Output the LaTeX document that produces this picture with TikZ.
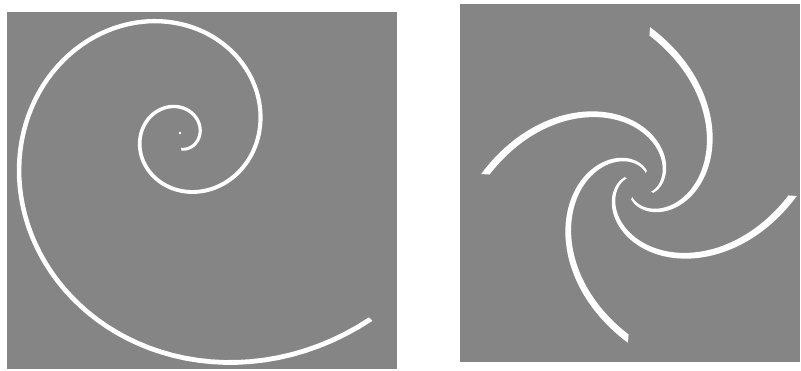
\documentclass[tikz,border=0pt]{standalone}

\begin{document}
\begin{tikzpicture}[
    x=0.02cm, y=0.02cm,
    panel/.style={fill=black!48, draw=none},
    ribbon/.style={fill=white, draw=none},
    declare function={
        rl(\t)=19.7*exp(0.00384*\t);  hl(\t)=1.5+(\t+85)/760;
        ra(\t)=154*exp(0.011345*\t);  ha(\t)=1.2+3*(\t+205)/205;
    }
]
\useasboundingbox (0,0) rectangle (801,371);

% Panels
\fill[panel] (7,2) rectangle (397,359);
\fill[panel] (460,9) rectangle (800,367);

% Left: one spiral
\coordinate (lcenter) at (180,236);
\begin{scope}[shift={(lcenter)}]
  \fill[ribbon] plot[domain=-85:676, samples=240, variable=\t]
      ({(rl(\t)+hl(\t))*cos(\t)}, {(rl(\t)+hl(\t))*sin(\t)})
    -- plot[domain=676:-85, samples=240, variable=\t]
      ({(rl(\t)-hl(\t))*cos(\t)}, {(rl(\t)-hl(\t))*sin(\t)}) -- cycle;
  \fill[ribbon] (0,2) circle (1.3);
\end{scope}

% Right: four arms
\coordinate (pcenter) at (639,186);
\foreach \a in {-4,86,176,266}{
  \begin{scope}[shift={(pcenter)}, rotate=\a]
    \fill[ribbon] plot[domain=-205:0, samples=90, variable=\t]
        ({(ra(\t)+ha(\t))*cos(\t)}, {(ra(\t)+ha(\t))*sin(\t)})
      -- plot[domain=0:-205, samples=90, variable=\t]
        ({(ra(\t)-ha(\t))*cos(\t)}, {(ra(\t)-ha(\t))*sin(\t)}) -- cycle;
  \end{scope}
}

\end{tikzpicture}
\end{document}
